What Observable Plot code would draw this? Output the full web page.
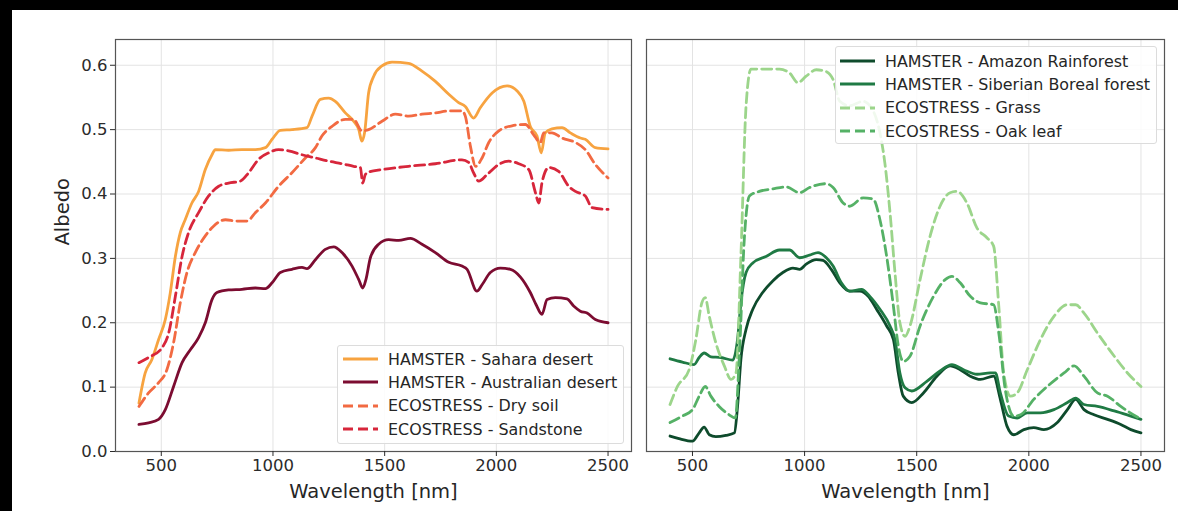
<!DOCTYPE html>
<html>
<head>
<meta charset="utf-8">
<script src="https://cdn.jsdelivr.net/npm/d3@7"></script>
<script src="https://cdn.jsdelivr.net/npm/@observablehq/plot@0.6"></script>
<style>
  html, body { margin: 0; padding: 0; background: #fff; }
  body { width: 1178px; height: 511px; position: relative; overflow: hidden; font-family: "DejaVu Sans", sans-serif; }
  .panel { position: absolute; top: 0; }
  .blk { position: absolute; background: #000; z-index: 5; }
  .legend { position: absolute; background: rgba(255,255,255,0.85); border: 1px solid #dcdcdc; border-radius: 3px; z-index: 4; box-sizing: border-box; }
  .row { position: absolute; left: 0; height: 20px; display: flex; align-items: center; font-size: 15.9px; color: #262626; white-space: nowrap; }
  .row svg { margin-right: 10px; }
</style>
</head>
<body>
<div class="blk" style="left:0;top:0;width:1178px;height:10px"></div>
<div class="blk" style="left:0;top:0;width:12px;height:511px"></div>
<div id="left" class="panel" style="left:0"></div>
<div id="right" class="panel" style="left:640px"></div>
<script>
// ---------- data: [wavelength nm, albedo] ----------
const sahara = [[400,0.075],[428,0.122],[458,0.143],[488,0.174],[518,0.205],[540,0.246],[563,0.303],[585,0.340],[607,0.360],[637,0.386],[667,0.404],[697,0.438],[727,0.461],[742,0.469],[801,0.468],[861,0.469],[921,0.469],[966,0.472],[996,0.485],[1033,0.499],[1085,0.500],[1152,0.503],[1175,0.521],[1212,0.547],[1249,0.549],[1279,0.544],[1324,0.526],[1361,0.513],[1384,0.500],[1398,0.482],[1410,0.495],[1428,0.557],[1451,0.583],[1488,0.599],[1533,0.605],[1607,0.603],[1667,0.591],[1727,0.575],[1787,0.555],[1831,0.542],[1861,0.536],[1898,0.518],[1928,0.534],[1981,0.557],[2048,0.568],[2093,0.560],[2123,0.544],[2152,0.505],[2182,0.490],[2201,0.464],[2219,0.495],[2249,0.501],[2294,0.503],[2331,0.495],[2376,0.487],[2398,0.485],[2443,0.472],[2500,0.470]];
const australia = [[400,0.042],[443,0.0445],[488,0.050],[518,0.065],[555,0.101],[593,0.138],[630,0.158],[667,0.177],[697,0.200],[727,0.236],[749,0.247],[801,0.251],[861,0.252],[921,0.254],[966,0.253],[996,0.262],[1033,0.278],[1085,0.283],[1130,0.286],[1152,0.284],[1190,0.298],[1234,0.314],[1272,0.318],[1309,0.309],[1354,0.288],[1384,0.267],[1402,0.254],[1416,0.267],[1436,0.301],[1473,0.322],[1518,0.329],[1563,0.328],[1615,0.331],[1667,0.322],[1727,0.309],[1787,0.294],[1846,0.288],[1869,0.283],[1913,0.249],[1936,0.259],[1973,0.278],[2018,0.285],[2063,0.283],[2108,0.271],[2152,0.247],[2178,0.228],[2204,0.213],[2227,0.236],[2264,0.239],[2316,0.237],[2346,0.226],[2376,0.218],[2406,0.215],[2443,0.205],[2500,0.200]];
const drySoil = [[400,0.070],[443,0.091],[488,0.107],[525,0.127],[555,0.169],[585,0.231],[615,0.278],[652,0.309],[697,0.335],[734,0.350],[787,0.360],[839,0.358],[884,0.358],[921,0.371],[966,0.386],[1025,0.412],[1085,0.433],[1145,0.456],[1190,0.472],[1219,0.490],[1264,0.505],[1324,0.516],[1361,0.516],[1398,0.498],[1428,0.500],[1488,0.513],[1548,0.524],[1607,0.521],[1667,0.524],[1727,0.526],[1787,0.529],[1846,0.529],[1861,0.521],[1884,0.474],[1907,0.443],[1936,0.456],[1966,0.480],[2011,0.498],[2070,0.506],[2130,0.508],[2167,0.492],[2197,0.480],[2212,0.495],[2249,0.495],[2294,0.487],[2354,0.480],[2398,0.469],[2443,0.446],[2500,0.425]];
const sandstone = [[400,0.138],[443,0.146],[503,0.161],[533,0.184],[563,0.241],[593,0.303],[622,0.340],[667,0.371],[712,0.397],[757,0.412],[801,0.417],[854,0.420],[891,0.433],[936,0.454],[981,0.464],[1025,0.469],[1070,0.467],[1130,0.461],[1190,0.456],[1249,0.451],[1309,0.447],[1361,0.443],[1391,0.441],[1402,0.417],[1413,0.430],[1428,0.434],[1488,0.438],[1607,0.443],[1727,0.447],[1846,0.453],[1876,0.449],[1898,0.433],[1921,0.420],[1958,0.430],[2011,0.446],[2055,0.451],[2100,0.447],[2145,0.438],[2175,0.402],[2190,0.386],[2204,0.417],[2234,0.441],[2279,0.435],[2324,0.412],[2354,0.404],[2398,0.397],[2428,0.379],[2500,0.376]];
const amazon = [[400,0.024],[440,0.020],[500,0.016],[530,0.029],[552,0.038],[575,0.026],[604,0.023],[649,0.025],[687,0.029],[701,0.070],[716,0.143],[739,0.190],[769,0.221],[813,0.247],[858,0.265],[903,0.278],[948,0.285],[978,0.283],[1007,0.291],[1052,0.298],[1082,0.297],[1119,0.283],[1157,0.262],[1201,0.249],[1246,0.249],[1284,0.241],[1321,0.221],[1366,0.195],[1396,0.174],[1418,0.122],[1440,0.086],[1478,0.076],[1530,0.091],[1590,0.117],[1649,0.133],[1694,0.127],[1739,0.117],[1784,0.112],[1843,0.117],[1873,0.081],[1903,0.039],[1933,0.026],[1978,0.034],[2022,0.037],[2067,0.034],[2127,0.045],[2172,0.065],[2209,0.081],[2246,0.065],[2291,0.057],[2351,0.050],[2410,0.042],[2455,0.034],[2500,0.029]];
const boreal = [[400,0.144],[455,0.139],[507,0.135],[530,0.146],[552,0.153],[582,0.147],[627,0.146],[679,0.142],[701,0.174],[716,0.231],[739,0.278],[769,0.293],[828,0.303],[888,0.313],[933,0.313],[978,0.301],[1022,0.305],[1060,0.309],[1097,0.301],[1127,0.288],[1164,0.262],[1201,0.249],[1254,0.252],[1291,0.241],[1336,0.221],[1381,0.195],[1403,0.174],[1425,0.122],[1448,0.099],[1478,0.094],[1545,0.109],[1604,0.125],[1657,0.135],[1709,0.127],[1769,0.120],[1828,0.122],[1851,0.122],[1873,0.091],[1910,0.055],[1948,0.052],[1993,0.060],[2052,0.060],[2112,0.065],[2172,0.076],[2209,0.083],[2246,0.073],[2306,0.070],[2381,0.063],[2455,0.055],[2500,0.050]];
const grass = [[400,0.073],[433,0.101],[485,0.127],[515,0.174],[542,0.231],[557,0.239],[575,0.210],[604,0.169],[642,0.133],[672,0.112],[694,0.122],[716,0.303],[739,0.537],[761,0.594],[813,0.594],[888,0.594],[933,0.588],[970,0.573],[1007,0.583],[1052,0.593],[1090,0.591],[1127,0.578],[1157,0.544],[1201,0.537],[1261,0.544],[1306,0.529],[1336,0.495],[1358,0.448],[1381,0.371],[1403,0.278],[1425,0.200],[1448,0.179],[1470,0.195],[1515,0.267],[1560,0.335],[1604,0.381],[1649,0.402],[1679,0.404],[1724,0.386],[1769,0.347],[1813,0.332],[1843,0.319],[1866,0.226],[1888,0.122],[1918,0.086],[1948,0.091],[1993,0.127],[2052,0.174],[2112,0.210],[2172,0.228],[2209,0.228],[2246,0.215],[2306,0.184],[2381,0.148],[2440,0.122],[2500,0.101]];
const oakLeaf = [[400,0.045],[455,0.055],[500,0.065],[530,0.086],[557,0.101],[582,0.086],[619,0.070],[664,0.057],[691,0.052],[709,0.148],[731,0.329],[754,0.397],[798,0.404],[858,0.408],[918,0.411],[978,0.402],[1022,0.410],[1097,0.416],[1127,0.410],[1172,0.386],[1201,0.381],[1261,0.394],[1306,0.392],[1336,0.360],[1366,0.303],[1396,0.226],[1418,0.164],[1440,0.140],[1470,0.148],[1515,0.195],[1575,0.241],[1627,0.267],[1657,0.272],[1694,0.262],[1739,0.241],[1784,0.231],[1843,0.228],[1866,0.184],[1895,0.096],[1933,0.055],[1963,0.057],[2022,0.081],[2082,0.101],[2157,0.122],[2202,0.133],[2246,0.117],[2306,0.091],[2351,0.086],[2410,0.070],[2500,0.050]];

const xTicks = [500, 1000, 1500, 2000, 2500];
const yTicks = [0.0, 0.1, 0.2, 0.3, 0.4, 0.5, 0.6];
const xLabel = "Wavelength [nm]";
const yLabel = "Albedo";

const leftSeries = [
  {name: "HAMSTER - Sahara desert", data: sahara, color: "#f7a340", dashed: false},
  {name: "HAMSTER - Australian desert", data: australia, color: "#7c0c31", dashed: false},
  {name: "ECOSTRESS - Dry soil", data: drySoil, color: "#f26a42", dashed: true},
  {name: "ECOSTRESS - Sandstone", data: sandstone, color: "#d7263b", dashed: true}
];
const rightSeries = [
  {name: "HAMSTER - Amazon Rainforest", data: amazon, color: "#0e4b2c", dashed: false},
  {name: "HAMSTER - Siberian Boreal forest", data: boreal, color: "#1f7a44", dashed: false},
  {name: "ECOSTRESS - Grass", data: grass, color: "#9cd58b", dashed: true},
  {name: "ECOSTRESS - Oak leaf", data: oakLeaf, color: "#55b166", dashed: true}
];

function panel(series, opts) {
  const marks = [
    Plot.gridX(xTicks, {stroke: "#e3e3e3", strokeOpacity: 1, strokeWidth: 1}),
    Plot.gridY(yTicks, {stroke: "#e3e3e3", strokeOpacity: 1, strokeWidth: 1}),
  ];
  for (const s of series) {
    const rows = s.data.map(([w, a]) => ({w, a}));
    marks.push(Plot.line(rows, {
      x: "w", y: "a", stroke: s.color, strokeWidth: 2.8, curve: "monotone-x",
      strokeDasharray: s.dashed ? "10,5" : null
    }));
  }
  marks.push(Plot.frame({stroke: "#555", strokeWidth: 1.2}));
  marks.push(Plot.axisX(xTicks, {tickSize: 5, tickPadding: 3, fontSize: 16.5, label: null, tickFormat: d => String(d)}));
  marks.push(Plot.text([xLabel], {frameAnchor: "bottom", dy: 40, fontSize: 19.5, fill: "#262626", lineAnchor: "middle"}));
  if (opts.yAxis) {
    marks.push(Plot.axisY(yTicks, {tickSize: 5, tickPadding: 3, fontSize: 16.5, label: null, tickFormat: d3.format(".1f")}));
    marks.push(Plot.text([yLabel], {frameAnchor: "left", dx: -53, rotate: -90, fontSize: 19.5, fill: "#262626", lineAnchor: "middle"}));
  }
  return Plot.plot({
    width: opts.width, height: 511,
    marginLeft: opts.ml, marginRight: opts.mr, marginTop: 39, marginBottom: 60,
    x: {domain: [295, 2605], axis: null},
    y: {domain: [0, 0.64], axis: null},
    style: {fontFamily: "DejaVu Sans, sans-serif", color: "#2b2b2b", background: "transparent", overflow: "visible"},
    marks
  });
}

function legend(container, series, box) {
  const lg = document.createElement("div");
  lg.className = "legend";
  Object.assign(lg.style, {left: box.x + "px", top: box.y + "px", width: box.w + "px", height: box.h + "px"});
  series.forEach((s, i) => {
    const row = document.createElement("div");
    row.className = "row";
    row.style.top = (box.first + i * box.step - 10) + "px";
    row.style.left = box.pad + "px";
    const ns = "http://www.w3.org/2000/svg";
    const sv = document.createElementNS(ns, "svg");
    sv.setAttribute("width", 35); sv.setAttribute("height", 8);
    const ln = document.createElementNS(ns, "line");
    ln.setAttribute("x1", 0); ln.setAttribute("x2", 35); ln.setAttribute("y1", 4); ln.setAttribute("y2", 4);
    ln.setAttribute("stroke", s.color); ln.setAttribute("stroke-width", 3);
    if (s.dashed) ln.setAttribute("stroke-dasharray", "10,5");
    sv.appendChild(ln);
    row.appendChild(sv);
    row.appendChild(document.createTextNode(s.name));
    lg.appendChild(row);
  });
  container.appendChild(lg);
}

const leftEl = document.getElementById("left");
leftEl.appendChild(panel(leftSeries, {width: 640, ml: 115, mr: 9, yAxis: true}));
legend(document.body, leftSeries, {x: 337, y: 345, w: 287, h: 99, first: 13, step: 23.4, pad: 5});

const rightEl = document.getElementById("right");
rightEl.appendChild(panel(rightSeries, {width: 538, ml: 6, mr: 14, yAxis: false}));
legend(document.body, rightSeries, {x: 835, y: 46, w: 322, h: 98, first: 14, step: 23.4, pad: 4});
</script>
</body>
</html>
